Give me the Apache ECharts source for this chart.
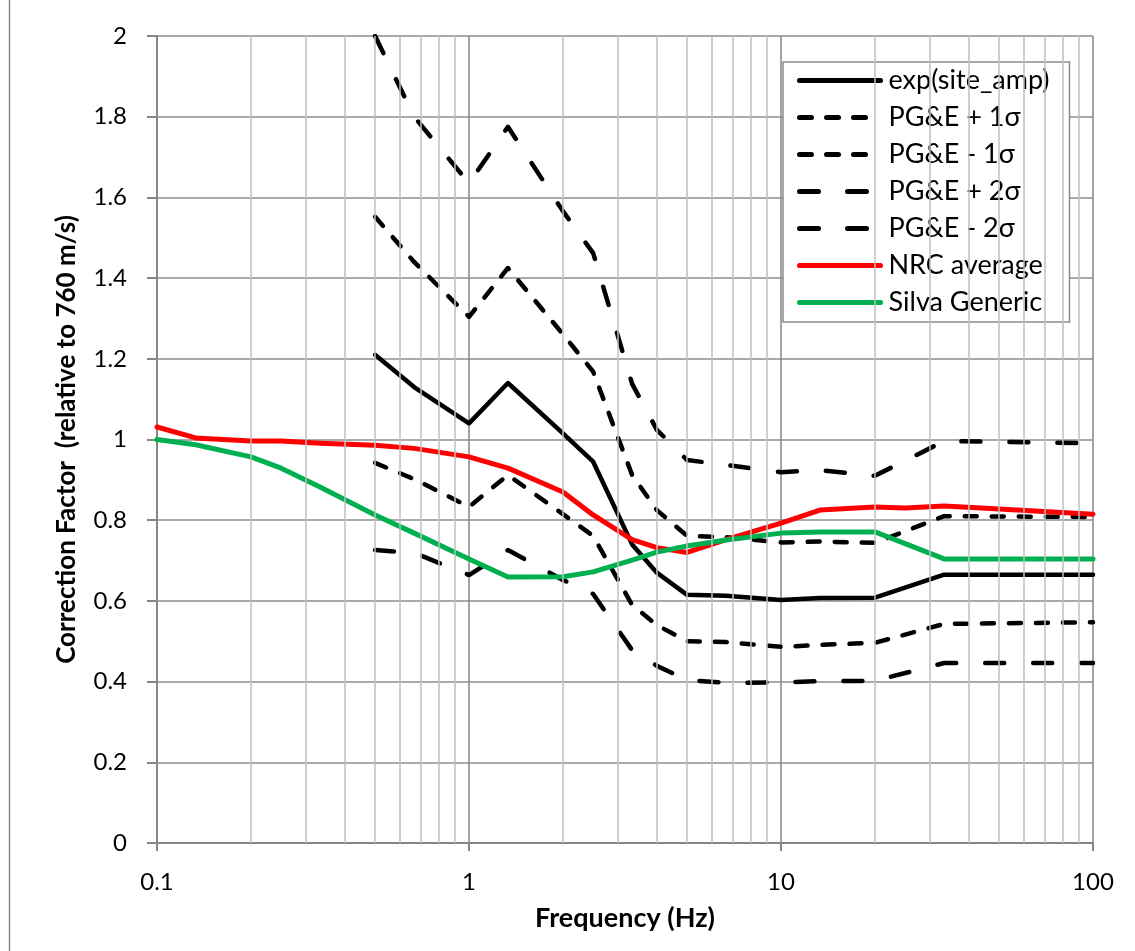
<!DOCTYPE html>
<html>
<head>
<meta charset="utf-8">
<title>Correction Factor</title>
<script src="https://cdn.jsdelivr.net/npm/echarts@6/dist/echarts.min.js"></script>
<style>
	html, body { margin: 0; padding: 0; background: #fff; }
	#lineChart { width: 1135px; height: 951px; }
</style>
</head>
<body>
<div id="lineChart"></div>
<script>
	// PG&E curves (Hz)
	var freqPGE = [0.5, 0.667, 1, 1.333, 2, 2.5, 3.333, 4, 5, 6.667, 10, 13.33, 20, 33.33, 100];
	var expSiteAmp = [1.21, 1.13, 1.04, 1.14, 1.015, 0.945, 0.74, 0.67, 0.615, 0.613, 0.602, 0.607, 0.608, 0.665, 0.665];
	var pgePlus1 = [1.552, 1.44, 1.304, 1.425, 1.261, 1.168, 0.912, 0.825, 0.761, 0.758, 0.745, 0.747, 0.744, 0.81, 0.808];
	var pgeMinus1 = [0.942, 0.902, 0.833, 0.912, 0.815, 0.761, 0.59, 0.54, 0.5, 0.498, 0.486, 0.491, 0.496, 0.543, 0.547];
	var pgePlus2 = [2.0, 1.80, 1.635, 1.775, 1.566, 1.462, 1.138, 1.024, 0.949, 0.937, 0.919, 0.924, 0.91, 0.996, 0.991];
	var pgeMinus2 = [0.726, 0.719, 0.664, 0.726, 0.652, 0.617, 0.478, 0.439, 0.404, 0.397, 0.398, 0.401, 0.402, 0.446, 0.446];

	// NRC / Silva curves (Hz)
	var freqRef = [0.1, 0.133, 0.2, 0.25, 0.333, 0.5, 0.667, 1, 1.333, 2, 2.5, 3.333, 4, 5, 6.667, 10, 13.33, 20, 25, 33.33, 50, 100];
	var nrcAverage = [1.031, 1.004, 0.996, 0.996, 0.991, 0.986, 0.978, 0.957, 0.929, 0.87, 0.813, 0.752, 0.732, 0.72, 0.752, 0.793, 0.825, 0.833, 0.83, 0.835, 0.828, 0.815];
	var silvaGeneric = [1.0, 0.987, 0.957, 0.929, 0.882, 0.813, 0.768, 0.704, 0.659, 0.66, 0.672, 0.701, 0.721, 0.736, 0.751, 0.768, 0.771, 0.771, 0.742, 0.704, 0.704, 0.704];

	// minor log gridlines
	var minorFreqs = [0.2, 0.3, 0.4, 0.5, 0.6, 0.7, 0.8, 0.9, 2, 3, 4, 5, 6, 7, 8, 9, 20, 30, 40, 50, 60, 70, 80, 90];

	var FONT = 'Lato, "Open Sans", sans-serif';

	function pairs(xs, ys) {
		return xs.map(function (x, i) { return [x, ys[i]]; });
	}

	function lineSeries(name, xs, ys, color, width, dash) {
		return {
			name: name,
			type: 'line',
			data: pairs(xs, ys),
			symbol: 'none',
			showSymbol: false,
			color: color,
			lineStyle: {
				color: color,
				width: width,
				type: dash || 'solid',
				cap: 'round',
				join: 'round'
			},
			z: 3
		};
	}

	var chart = echarts.init(document.getElementById('lineChart'));
	chart.setOption({
		animation: false,
		backgroundColor: '#fff',
		textStyle: { fontFamily: FONT },
		graphic: [{
			type: 'rect',
			left: 7, top: -10,
			shape: { width: 1300, height: 1100 },
			style: { fill: 'none', stroke: '#8c8c8c', lineWidth: 1.5 },
			silent: true
		}],
		grid: { left: 157, right: 42, top: 36, bottom: 108 },
		legend: {
			orient: 'vertical',
			left: 783, top: 62,
			padding: [5, 20, 6, 14],
			itemGap: 10,
			itemWidth: 81,
			itemHeight: 12,
			backgroundColor: '#fff',
			borderColor: '#8c8c8c',
			borderWidth: 1.5,
			borderRadius: 0,
			itemStyle: { opacity: 0, borderWidth: 0 },
			lineStyle: { width: 5, type: 'inherit', cap: 'round' },
			textStyle: { fontFamily: FONT, fontSize: 27, color: '#000', lineHeight: 25, padding: [0, 0, 0, 3] },
			data: ['exp(site_amp)', 'PG&E + 1σ', 'PG&E - 1σ', 'PG&E + 2σ', 'PG&E - 2σ', 'NRC average', 'Silva Generic']
		},
		xAxis: {
			type: 'log',
			logBase: 10,
			min: 0.1,
			max: 100,
			name: 'Frequency (Hz)',
			nameLocation: 'middle',
			nameGap: 62,
			nameTextStyle: { fontFamily: FONT, fontSize: 27, fontWeight: 'bold', color: '#000' },
			axisLine: { lineStyle: { color: '#868686', width: 2 } },
			axisTick: { show: true, length: 8, lineStyle: { color: '#868686', width: 2 } },
			axisLabel: { fontFamily: FONT, fontSize: 24, color: '#000', margin: 27 },
			splitLine: { show: true, lineStyle: { color: '#868686', width: 1.5 } }
		},
		yAxis: {
			type: 'value',
			min: 0,
			max: 2,
			interval: 0.2,
			name: 'Correction Factor  (relative to 760 m/s)',
			nameLocation: 'middle',
			nameGap: 77,
			nameTextStyle: { fontFamily: FONT, fontSize: 26, fontWeight: 'bold', color: '#000' },
			axisLine: { show: true, lineStyle: { color: '#868686', width: 2 } },
			axisTick: { show: true, length: 10, lineStyle: { color: '#868686', width: 2 } },
			axisLabel: { fontFamily: FONT, fontSize: 24, color: '#000', margin: 30 },
			splitLine: { show: true, lineStyle: { color: '#8c8c8c', width: 1.5 } }
		},
		series: [
			{
				// minor vertical gridlines
				type: 'line',
				data: [],
				silent: true,
				z: 1,
				markLine: {
					silent: true,
					symbol: ['none', 'none'],
					label: { show: false },
					lineStyle: { color: '#bfbfbf', type: 'solid', width: 1.5 },
					data: minorFreqs.map(function (f) { return { xAxis: f }; })
				}
			},
			lineSeries('exp(site_amp)', freqPGE, expSiteAmp, '#000', 4.5),
			lineSeries('PG&E + 1σ', freqPGE, pgePlus1, '#000', 4.5, [12, 15]),
			lineSeries('PG&E - 1σ', freqPGE, pgeMinus1, '#000', 4.5, [12, 15]),
			lineSeries('PG&E + 2σ', freqPGE, pgePlus2, '#000', 4.5, [19, 29]),
			lineSeries('PG&E - 2σ', freqPGE, pgeMinus2, '#000', 4.5, [19, 29]),
			lineSeries('NRC average', freqRef, nrcAverage, '#ff0000', 5),
			lineSeries('Silva Generic', freqRef, silvaGeneric, '#00b050', 5)
		]
	});
</script>
</body>
</html>
